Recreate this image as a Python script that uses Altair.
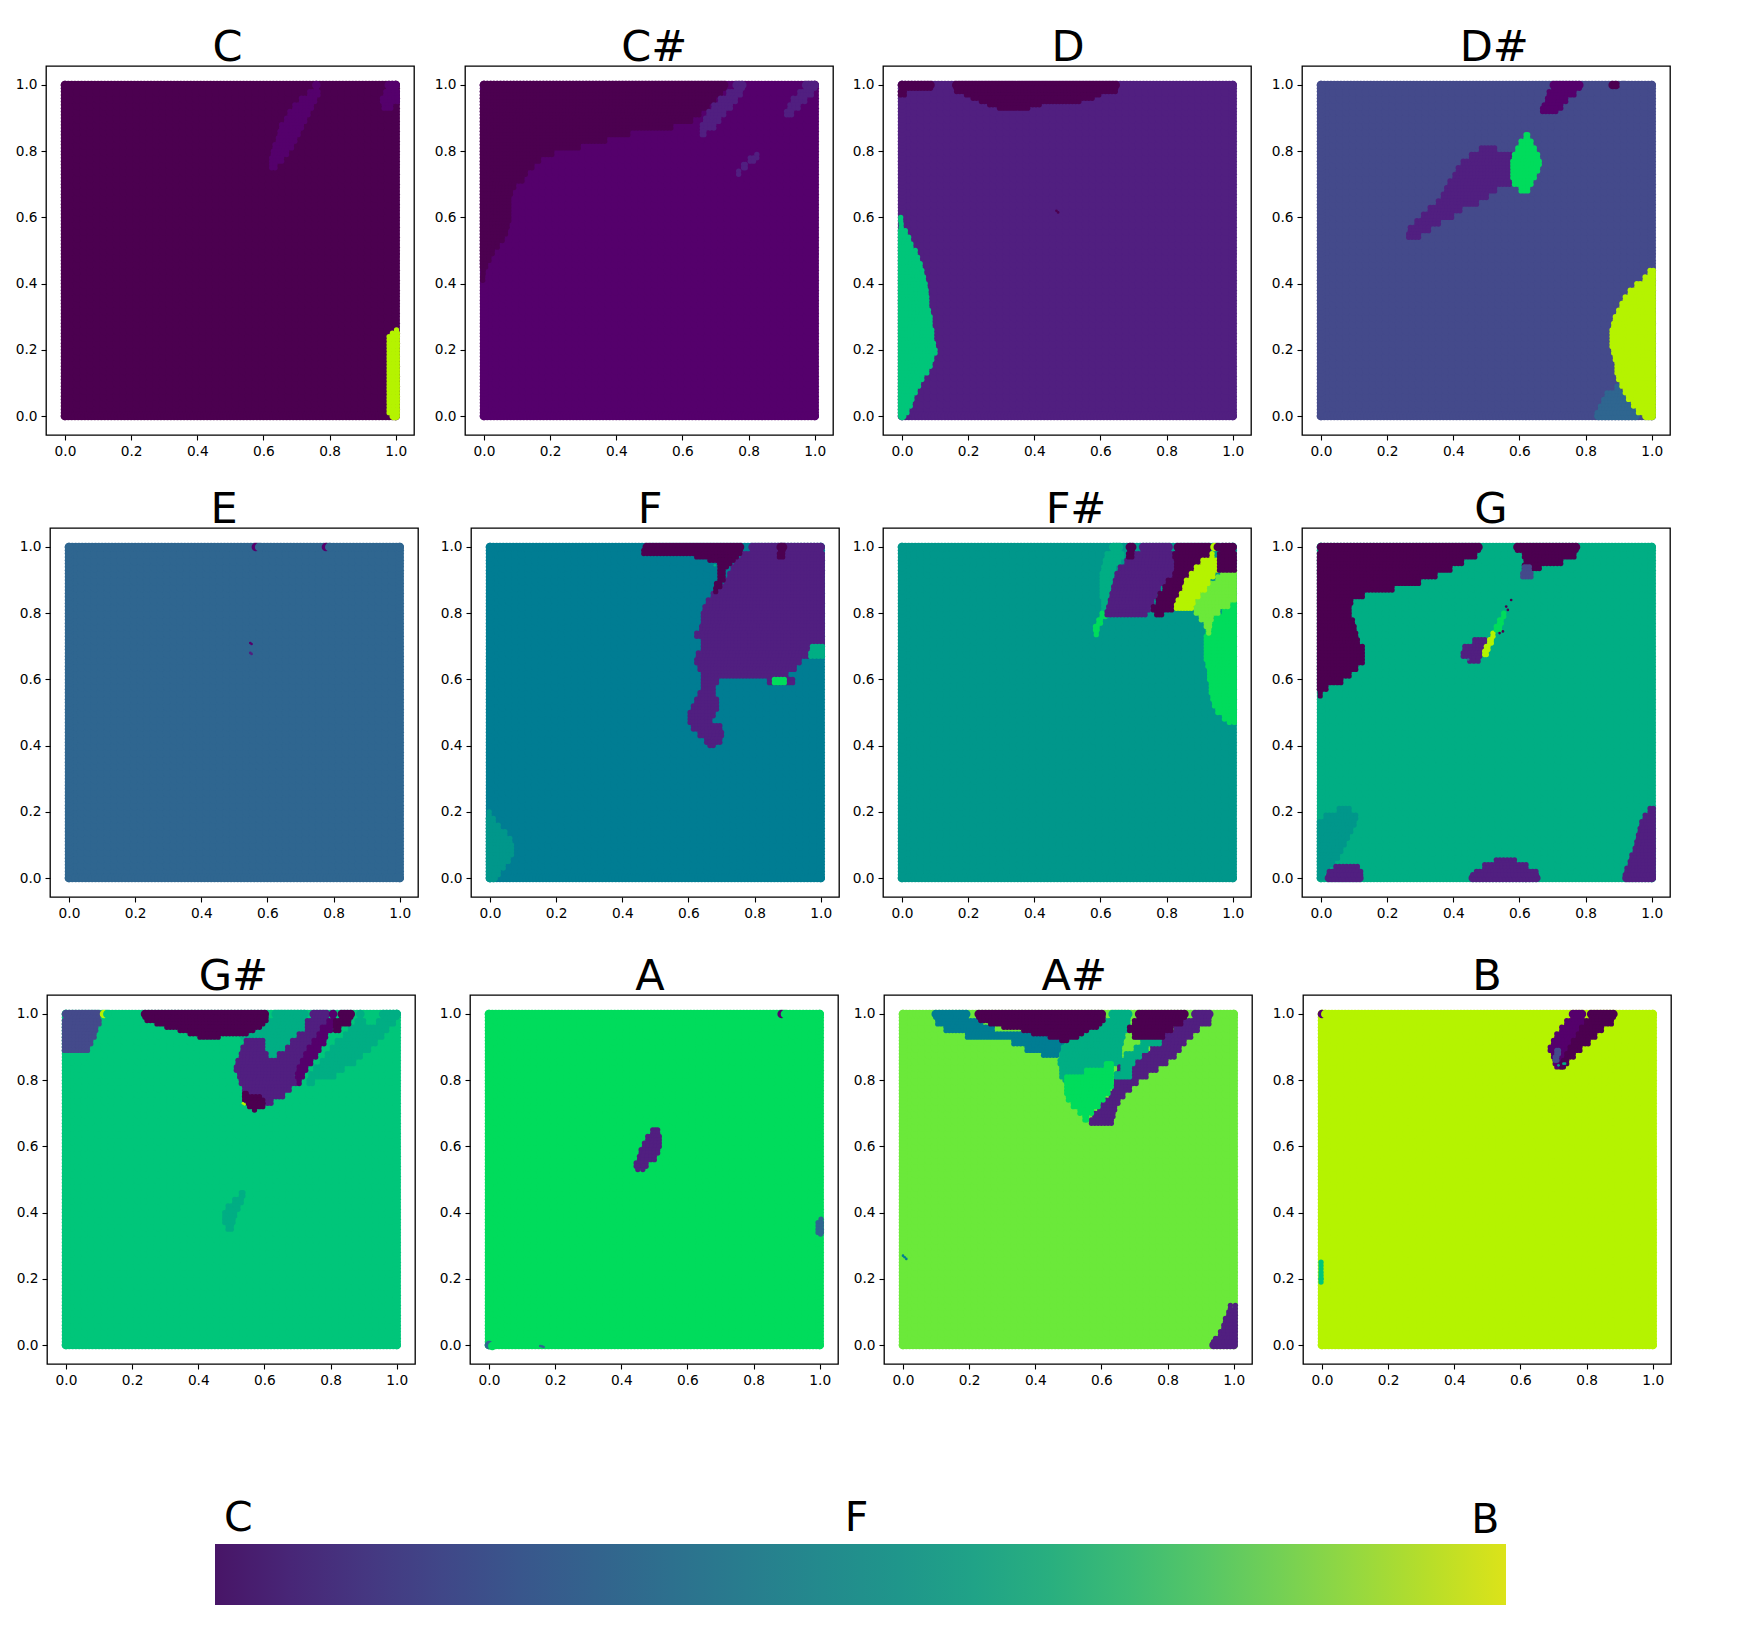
import altair as alt
import pandas as pd

NOTES = ["C", "C#", "D", "D#", "E", "F", "F#", "G", "G#", "A", "A#", "B"]
NOTE_COLORS = ["#4c0050", "#55006c", "#511f80", "#444a8b", "#2f6690", "#007d93",
               "#00978b", "#00ae84", "#00c67a", "#00dc5c", "#6be93a", "#b5f300"]
TICKS = [0.0, 0.2, 0.4, 0.6, 0.8, 1.0]
BAR_COLORS = ["#481567", "#482677", "#453781", "#404788", "#39568c", "#33638d", "#2d708e",
              "#287d8e", "#238a8d", "#1f968b", "#20a387", "#29af7f", "#3cbb75", "#55c667",
              "#73d055", "#95d840", "#b8de29", "#dce319"]
BAR_LABELS = ["C", "F", "B"]
BAR_LABEL_X = [0.018, 0.497, 0.984]
BAR_LABEL_Y = [1.213, 1.213, 1.18]

# Regions: note -> list of (other class, rows of (y, x from, x to))
REGIONS = {
"C": [
 ("B", [(.26,.995,1),(.25,.985,1),(.24,.975,1),(.22,.975,1),(.20,.975,1),(.18,.975,1),(.16,.975,1),(.14,.975,1),(.12,.975,1),(.10,.975,1),(.08,.975,1),(.06,.975,1),(.04,.975,1),(.02,.975,1),(0,.98,1)]),
 ("C#", [(1,.745,.775),(.98,.735,.77),(.96,.71,.76),(.94,.69,.75),(.92,.675,.74),(.90,.665,.73),(.88,.65,.72),(.86,.645,.71),(.84,.64,.70),(.82,.63,.69),(.80,.625,.675),(.78,.62,.66),(.76,.62,.64)]),
 ("C#", [(1,.965,1),(.98,.965,1),(.96,.955,1),(.94,.96,.99)]),
],
"C#": [
 ("C", [(1,0,.74),(.98,0,.72),(.96,0,.70),(.94,0,.68),(.92,0,.655),(.90,0,.63),(.88,0,.57),(.86,0,.44),(.84,0,.37),(.82,0,.29),(.80,0,.21),(.78,0,.17),(.76,0,.15),(.74,0,.13),(.72,0,.12),(.70,0,.095),(.68,0,.085),(.66,0,.08),(.64,0,.08),(.62,0,.08),(.60,0,.08),(.58,0,.075),(.56,0,.07),(.54,0,.06),(.52,0,.045),(.50,0,.03),(.48,0,.02),(.46,0,.01),(.44,0,.005),(.42,0,.002)]),
 ("D", [(1,.75,.795),(.98,.735,.78),(.96,.71,.765),(.94,.69,.75),(.92,.675,.73),(.90,.665,.715),(.88,.655,.70),(.86,.655,.67)]),
 ("D", [(1,.96,1),(.98,.95,.995),(.96,.93,.975),(.94,.92,.955),(.92,.91,.935)]),
 ("D", [(.79,.82,.83),(.78,.80,.82),(.76,.78,.795),(.74,.765,.775)]),
],
"D": [
 ("C", [(1,0,.10),(.98,0,.012)]),
 ("C", [(1,.15,.66),(.99,.16,.65),(.98,.19,.60),(.97,.21,.58),(.96,.235,.54),(.95,.26,.42),(.94,.29,.385)]),
 ("G#", [(.60,0,.002),(.58,0,.005),(.56,0,.015),(.54,0,.025),(.52,0,.032),(.50,0,.045),(.48,0,.052),(.46,0,.06),(.44,0,.065),(.42,0,.07),(.40,0,.075),(.38,0,.078),(.36,0,.08),(.34,0,.08),(.32,0,.085),(.30,0,.09),(.28,0,.09),(.26,0,.095),(.24,0,.095),(.22,0,.10),(.20,0,.105),(.18,0,.095),(.16,0,.09),(.14,0,.08),(.12,0,.065),(.10,0,.055),(.08,0,.045),(.06,0,.035),(.04,0,.03),(.02,0,.02),(0,0,.015)]),
],
"D#": [
 ("C#", [(1,.69,.795),(.98,.685,.77),(.96,.68,.745),(.94,.67,.73),(.93,.665,.715)]),
 ("D", [(.81,.48,.53),(.79,.45,.58),(.77,.425,.58),(.75,.41,.58),(.73,.40,.58),(.71,.385,.575),(.69,.375,.53),(.67,.365,.505),(.65,.35,.475),(.63,.325,.425),(.61,.305,.40),(.59,.285,.36),(.57,.265,.33),(.55,.26,.30)]),
 ("A", [(.85,.615,.63),(.83,.60,.64),(.81,.59,.65),(.79,.58,.66),(.77,.575,.665),(.75,.575,.66),(.73,.575,.65),(.71,.58,.64),(.69,.60,.63)]),
 ("E", [(.09,.89,.905),(.07,.86,.92),(.05,.85,.935),(.03,.84,.95),(.01,.83,.96),(0,.825,.965)]),
 ("B", [(.44,.99,1),(.42,.975,1),(.40,.95,1),(.38,.93,1),(.36,.915,1),(.34,.905,1),(.32,.895,1),(.30,.885,1),(.28,.88,1),(.26,.875,1),(.24,.875,1),(.22,.875,1),(.20,.88,1),(.18,.885,1),(.16,.89,1),(.14,.89,1),(.12,.895,1),(.10,.905,1),(.08,.915,1),(.06,.925,1),(.04,.94,1),(.02,.955,1),(0,.97,1)]),
],
"E": [],
"F": [
 ("F#", [(.20,0,.005),(.18,0,.015),(.16,0,.03),(.14,0,.05),(.12,0,.065),(.10,0,.07),(.08,0,.07),(.06,0,.06),(.04,0,.045),(.02,0,.03),(0,0,.025)]),
 ("D", [(1,.78,1),(.98,.76,1),(.96,.74,1),(.94,.73,1),(.92,.72,1),(.90,.71,1),(.88,.69,1),(.86,.67,1),(.84,.655,1),(.82,.645,1),(.80,.64,1),(.78,.64,1),(.76,.635,1),(.74,.62,1),(.72,.64,1),(.70,.64,.98),(.68,.625,.965),(.66,.62,.94),(.64,.63,.925),(.62,.64,.90),(.60,.64,.69),(.60,.84,.92),(.58,.64,.68),(.56,.63,.68),(.54,.62,.69),(.52,.61,.69),(.50,.60,.68),(.48,.60,.67),(.46,.61,.70),(.44,.63,.705),(.42,.65,.70),(.41,.66,.68)]),
 ("C", [(1,.46,.77),(.99,.46,.76),(.98,.62,.75),(.97,.66,.74),(.96,.69,.73),(.95,.69,.72),(.93,.69,.71),(.91,.69,.71),(.89,.68,.70),(.875,.675,.69)]),
 ("C", [(1,.865,.90),(.98,.87,.89)]),
 ("A", [(.60,.855,.895)]),
 ("G", [(.70,.97,1),(.68,.965,1)]),
],
"F#": [
 ("G", [(1,.625,.67),(.98,.615,.67),(.96,.61,.66),(.94,.605,.645),(.92,.60,.64),(.90,.60,.64),(.88,.60,.635),(.86,.60,.63),(.84,.605,.625),(.82,.605,.62)]),
 ("A", [(.80,.60,.62),(.78,.59,.605),(.76,.58,.595),(.745,.585,.59)]),
 ("D", [(1,.715,.82),(.98,.69,.82),(.96,.675,.82),(.94,.655,.825),(.92,.645,.82),(.90,.64,.80),(.88,.635,.78),(.86,.63,.77),(.84,.625,.76),(.82,.62,.75),(.805,.615,.74)]),
 ("C", [(1,.675,.71),(.98,.68,.70)]),
 ("C", [(1,.82,.94),(.98,.82,.93),(.96,.825,.905),(.94,.825,.885),(.92,.82,.87),(.90,.80,.855),(.88,.79,.85),(.86,.775,.84),(.84,.77,.83),(.82,.755,.82),(.805,.765,.79)]),
 ("A", [(.83,.99,1),(.81,.97,1),(.79,.945,1),(.77,.93,1),(.75,.92,1),(.73,.915,1),(.71,.915,1),(.69,.915,1),(.67,.915,1),(.65,.92,1),(.63,.925,1),(.61,.925,1),(.59,.93,1),(.57,.93,1),(.55,.935,1),(.53,.94,1),(.51,.95,1),(.49,.97,1),(.48,.985,1)]),
 ("A#", [(.93,.965,1),(.91,.95,1),(.89,.92,1),(.87,.905,1),(.85,.89,1),(.83,.885,.99),(.81,.885,.96),(.79,.90,.94),(.77,.915,.935),(.75,.925,.93)]),
 ("B", [(.98,.93,.945),(.96,.905,.955),(.94,.885,.96),(.92,.87,.945),(.90,.855,.93),(.88,.85,.92),(.86,.84,.90),(.84,.83,.885),(.825,.825,.88)]),
 ("C", [(1,.955,1),(.98,.955,1),(.96,.955,1),(.94,.955,1)]),
],
"G": [
 ("C", [(1,0,.49),(.98,0,.47),(.96,0,.43),(.94,0,.395),(.92,0,.35),(.90,0,.30),(.88,0,.22),(.86,0,.13),(.84,0,.095),(.82,0,.09),(.80,0,.09),(.78,0,.10),(.76,0,.105),(.74,0,.11),(.72,0,.115),(.70,0,.13),(.68,0,.13),(.66,0,.13),(.64,0,.11),(.62,0,.09),(.60,0,.065),(.58,0,.02),(.56,0,.005)]),
 ("C", [(1,.58,.785),(.98,.61,.77),(.96,.615,.73),(.945,.61,.665)]),
 ("D#", [(.94,.61,.635),(.92,.605,.64)]),
 ("D", [(.72,.46,.50),(.70,.43,.50),(.68,.425,.485),(.665,.445,.48)]),
 ("B", [(.74,.515,.525),(.72,.505,.52),(.70,.495,.51),(.685,.49,.505)]),
 ("A", [(.80,.55,.555),(.78,.535,.55),(.76,.525,.545)]),
 ("F#", [(.21,.05,.09),(.19,.01,.11),(.17,0,.105),(.15,0,.095),(.13,0,.085),(.11,0,.075),(.09,0,.065),(.07,0,.055),(.05,0,.04),(.03,0,.025),(.01,0,.01)]),
 ("D", [(.035,.04,.115),(.02,.02,.125),(0,.01,.13)]),
 ("D", [(.055,.525,.59),(.04,.49,.625),(.02,.465,.655),(0,.445,.665)]),
 ("D", [(.21,.99,1),(.19,.975,1),(.17,.965,1),(.15,.96,1),(.13,.955,1),(.11,.95,1),(.09,.945,1),(.07,.935,1),(.05,.93,1),(.03,.92,1),(.01,.915,1),(0,.91,1)]),
],
"G#": [
 ("D#", [(1,0,.11),(.98,0,.105),(.96,0,.095),(.94,0,.09),(.92,0,.08),(.90,0,.07)]),
 ("G", [(1,.88,.90),(1,.945,1),(.98,.875,.905),(.98,.94,.995),(.96,.855,.975),(.94,.84,.96),(.92,.815,.94),(.90,.80,.92),(.88,.785,.895),(.86,.77,.875),(.84,.75,.84),(.82,.735,.815),(.80,.73,.75)]),
 ("G", [(1,.62,.735),(.98,.60,.73),(.96,.565,.725),(.94,.53,.70),(.92,.60,.70),(.90,.605,.69),(.88,.61,.665),(.86,.605,.65)]),
 ("D", [(1,.735,.80),(.98,.725,.79),(.96,.725,.77),(.94,.70,.76),(.92,.54,.60),(.92,.68,.75),(.90,.53,.60),(.90,.665,.73),(.88,.525,.61),(.88,.64,.72),(.86,.515,.73),(.84,.51,.70),(.82,.52,.69),(.80,.525,.70),(.78,.535,.68),(.76,.55,.66),(.74,.585,.625)]),
 ("C#", [(1,.795,.82),(.98,.79,.81),(.96,.77,.805),(.94,.76,.79),(.92,.745,.785),(.90,.73,.77),(.88,.72,.76),(.86,.71,.745),(.84,.70,.73),(.82,.695,.72),(.80,.70,.71)]),
 ("C", [(1,.82,.875),(.98,.81,.86),(.96,.81,.83)]),
 ("C", [(1,.225,.615),(.99,.24,.61),(.98,.27,.60),(.97,.30,.59),(.96,.34,.57),(.95,.37,.55),(.94,.40,.465)]),
 ("C", [(.76,.535,.55),(.75,.535,.59),(.74,.545,.60),(.73,.55,.60),(.72,.565,.575)]),
 ("G", [(.46,.525,.54),(.44,.505,.535),(.42,.485,.525),(.40,.475,.515),(.38,.475,.51),(.36,.485,.505)]),
],
"A": [
 ("D", [(.65,.49,.515),(.63,.475,.52),(.61,.465,.52),(.59,.455,.515),(.57,.45,.505),(.55,.44,.48),(.54,.445,.47)]),
 ("E", [(.38,.998,1),(.37,.99,1),(.35,.99,1),(.345,.995,1)]),
],
"A#": [
 ("F", [(1,.085,.205),(.98,.10,.24),(.96,.125,.275),(.94,.19,.49),(.92,.33,.485),(.90,.37,.48),(.885,.42,.47)]),
 ("G", [(1,.62,.695),(.98,.60,.685),(.96,.56,.68),(.94,.52,.67),(.92,.49,.665),(.90,.48,.66),(.88,.475,.66),(.86,.47,.66),(.84,.475,.62),(.82,.475,.56),(.81,.485,.52)]),
 ("D", [(1,.87,.94),(.98,.84,.93),(.96,.82,.895),(.94,.79,.875),(.92,.77,.855),(.90,.75,.84),(.88,.72,.825),(.86,.69,.80),(.84,.65,.77),(.82,.645,.74),(.80,.64,.71),(.78,.635,.69),(.76,.625,.67),(.74,.60,.655),(.72,.59,.645),(.70,.575,.64),(.68,.565,.635)]),
 ("G", [(.94,.70,.77),(.92,.72,.78),(.90,.70,.74),(.88,.67,.72),(.86,.66,.70),(.84,.66,.69),(.82,.64,.69)]),
 ("A", [(.85,.61,.635),(.83,.55,.635),(.81,.49,.635),(.79,.49,.635),(.77,.49,.625),(.75,.495,.61),(.73,.51,.595),(.71,.53,.575),(.69,.545,.56)]),
 ("C", [(1,.215,.615),(.99,.23,.61),(.98,.26,.60),(.97,.30,.59),(.96,.36,.56),(.95,.39,.545),(.94,.44,.53),(.93,.475,.50)]),
 ("C", [(1,.70,.865),(.98,.695,.845),(.96,.68,.815),(.94,.695,.79)]),
 ("D", [(.12,.985,1),(.10,.98,1),(.08,.97,1),(.06,.965,1),(.04,.955,1),(.02,.94,1),(0,.925,1)]),
],
"B": [
 ("C#", [(1,.745,.80),(.98,.735,.795),(.96,.72,.78),(.94,.705,.77),(.92,.695,.755),(.90,.685,.745),(.88,.695,.735),(.86,.70,.725),(.85,.705,.725)]),
 ("C", [(1,.80,.895),(.98,.795,.88),(.96,.78,.85),(.94,.77,.83),(.92,.755,.81),(.90,.745,.785),(.88,.735,.765),(.86,.725,.745),(.85,.72,.735)]),
 ("D#", [(.89,.705,.72),(.87,.70,.715)]),
 ("G#", [(.25,0,.004),(.23,0,.004),(.21,0,.004),(.20,0,.004)]),
],
}

# Whole dots at the edge (drawn in order; a later dot leaves a crescent of an earlier one)
DOTS = {
"C": [], "C#": [], "D": [],
"D#": [(.882,1,"C"),(.892,1,"C"),(.915,1,"D#")],
"E": [(.565,1,"C#"),(.575,1,"E"),(.777,1,"C#"),(.787,1,"E")],
"F": [], "F#": [(.945,1,"B"),(.955,1,"C")], "G": [],
"G#": [(.115,1,"B"),(.125,1,"G#")],
"A": [(.885,1,"C#"),(.895,1,"A"),(0,0,"E"),(.01,-.003,"A")],
"A#": [],
"B": [(0,1,"C#"),(.01,1,"B")],
}

# Tiny slivers
SPECKS = {
"C": [], "C#": [],
"D": [(.467,.62,"C"),(.472,.615,"C")],
"D#": [], "E": [(.548,.71,"C#"),(.552,.707,"C#"),(.548,.68,"D"),(.552,.677,"D")],
"F": [(.68,.945,"G")], "F#": [],
"G": [(.575,.84,"C"),(.56,.82,"C"),(.565,.81,"C"),(.54,.74,"C"),(.55,.745,"C"),(.445,.66,"E")],
"G#": [(.535,.73,"B"),(.54,.727,"B")],
"A": [(.155,-.003,"E"),(.165,-.006,"E"),(.16,-.004,"E")],
"A#": [(0,.27,"F"),(.005,.265,"F"),(.01,.26,"F")],
"B": [(.715,.845,"G"),(.735,.85,"G"),(.73,.85,"G")],
}

# layout of the sheet (pixels)
PANEL_W, PANEL_H = 368, 369
FILL, BIG, SMALL, SPECK = 120, 74, 28, 7
LEFT = [2.2, 7.2, 2.9]
LAYOUT = [
 [("C", 30, -2.5), ("C#", 49.2, 5.3), ("D", 47.7, 1), ("D#", 48.7, 8.3)],
 [("E", 30, -10), ("F", 51.3, -5), ("F#", 41.7, 9), ("G", 48.7, 5)],
 [("G#", 30, 2.3), ("A", 52.9, -4), ("A#", 43.7, 6.2), ("B", 48.9, 0)],
]


def span(a, b):
    n = int(round((b - a) / 0.01))
    return [a + i * (b - a) / n for i in range(n + 1)] if n > 0 else [(a + b) / 2]


def panel_rows(note):
    out = []
    for i in range(1, 50):
        for j in range(1, 50):
            out.append((i * 0.02, j * 0.02, note, FILL))
    for i in range(101):
        for v in (0.0, 1.0):
            out.append((i * 0.01, v, note, BIG))
            out.append((v, i * 0.01, note, BIG))
    for cls, rows in REGIONS[note]:
        for y, x0, x1 in rows:
            if y >= 0.999 or y <= 0.001:
                lo, hi = x0 + 0.014, x1 - 0.014
                if x0 <= 0.001:
                    lo = 0.0
                if x1 >= 0.999:
                    hi = 1.0
                if lo > hi:
                    lo = hi = (x0 + x1) / 2
                out += [(x, y, cls, BIG) for x in span(lo, hi)]
                inner = y - 0.01 if y >= 0.999 else y + 0.01
                out += [(x, inner, cls, SMALL) for x in span(lo, hi)]
            else:
                lo = -0.005 if x0 <= 0.001 else x0 + 0.005
                hi = 1.005 if x1 >= 0.999 else x1 - 0.005
                if lo > hi:
                    lo = hi = (x0 + x1) / 2
                for yy in (y, y - 0.01):
                    out += [(x, yy, cls, SMALL) for x in span(lo, hi)]
    out += [(x, y, c, BIG) for x, y, c in DOTS[note]]
    out += [(x, y, c, SPECK) for x, y, c in SPECKS[note]]
    return out


def panel(note, gap, dx):
    df = pd.DataFrame(panel_rows(note), columns=["x", "y", "cls", "s"])
    df["x"] = df["x"].round(4)
    df["y"] = df["y"].round(4)
    ax = dict(values=TICKS, format=".1f", grid=False, domain=False, title=None,
              ticks=True, tickColor="black", tickWidth=1.1, tickSize=5,
              labelColor="black", labelFont="DejaVu Sans", labelFontSize=13.7,
              labelPadding=4, labelOverlap=False, labelFlush=False)
    return (
        alt.Chart(df)
        .mark_point(filled=True, opacity=1, stroke=None, strokeWidth=0)
        .encode(
            x=alt.X("x:Q", scale=alt.Scale(domain=[-0.0575, 1.0553], nice=False, zero=False),
                    axis=alt.Axis(**ax)),
            y=alt.Y("y:Q", scale=alt.Scale(domain=[-0.0574, 1.0574], nice=False, zero=False),
                    axis=alt.Axis(minExtent=gap, maxExtent=gap, **ax)),
            color=alt.Color("cls:N", scale=alt.Scale(domain=NOTES, range=NOTE_COLORS), legend=None),
            size=alt.Size("s:Q", scale=None),
        )
        .properties(
            width=PANEL_W, height=PANEL_H,
            title=alt.TitleParams(note, font="DejaVu Sans", fontSize=43, fontWeight="normal",
                                  color="black", anchor="middle", dx=dx, dy=7, offset=3),
            view=alt.ViewConfig(stroke="black", strokeWidth=1.3),
        )
    )


def spacer(w):
    return (
        alt.Chart(pd.DataFrame({"x": [0.0]}))
        .mark_point(opacity=0)
        .encode(x=alt.X("x:Q", axis=None))
        .properties(width=w, height=1, view=alt.ViewConfig(strokeWidth=0, stroke="transparent"))
    )


rows = [alt.hconcat(spacer(w), *[panel(*p) for p in r], spacing=0) for w, r in zip(LEFT, LAYOUT)]

bar_df = pd.DataFrame({"x0": [0.0], "x1": [1.0], "y0": [0.0], "y1": [1.0]})
lab_df = pd.DataFrame({"x": BAR_LABEL_X, "y": BAR_LABEL_Y, "t": BAR_LABELS})
bar_x = alt.Scale(domain=[0, 1], nice=False, zero=False)
bar_y = alt.Scale(domain=[0, 1], nice=False, zero=False)
stops = [{"offset": i / (len(BAR_COLORS) - 1), "color": c} for i, c in enumerate(BAR_COLORS)]
bar_rect = alt.Chart(bar_df).mark_rect(
    color={"gradient": "linear", "x1": 0, "x2": 1, "y1": 0, "y2": 0, "stops": stops}
).encode(
    x=alt.X("x0:Q", scale=bar_x, axis=None), x2="x1:Q",
    y=alt.Y("y0:Q", scale=bar_y, axis=None),
    y2="y1:Q",
)
bar_text = alt.Chart(lab_df).mark_text(
    font="DejaVu Sans", fontSize=41, color="black", align="center", baseline="alphabetic"
).encode(
    x=alt.X("x:Q", scale=bar_x, axis=None),
    y=alt.Y("y:Q", scale=bar_y, axis=None),
    text="t:N",
)
bar = alt.layer(bar_rect, bar_text).properties(
    width=1291, height=61, view=alt.ViewConfig(strokeWidth=0, stroke="transparent")
)
bar_row = alt.hconcat(spacer(205), bar, spacing=0)

chart = alt.vconcat(
    alt.vconcat(alt.vconcat(rows[0], rows[1], spacing=29), rows[2], spacing=34),
    bar_row, spacing=110,
).properties(padding={"left": 0, "top": 18, "right": 0, "bottom": 0}, background="white")

chart.save("out.html", embed_options={"renderer": "svg", "actions": False})
